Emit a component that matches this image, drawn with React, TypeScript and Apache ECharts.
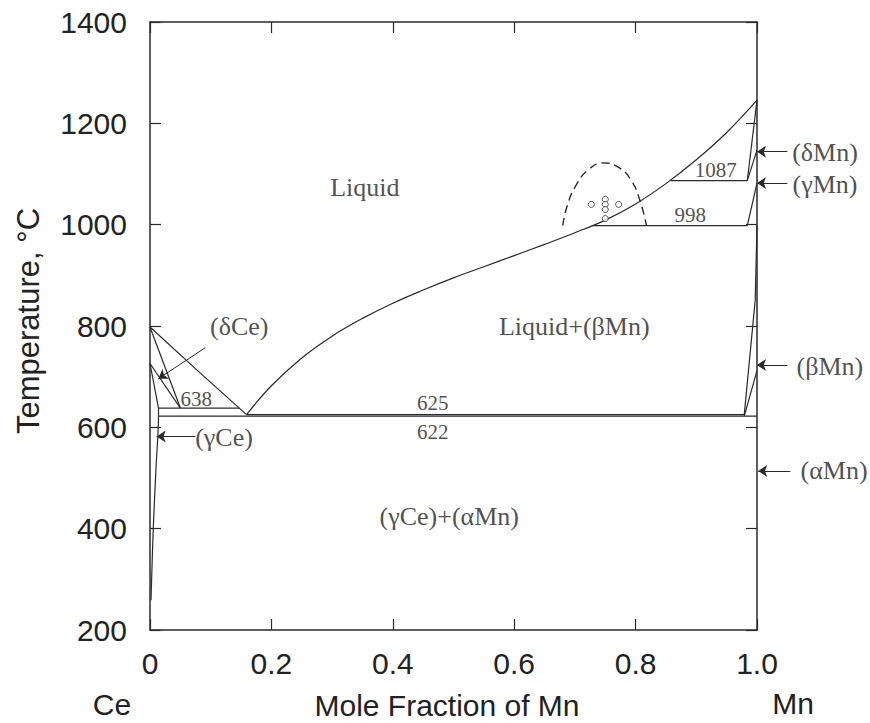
import React, { useEffect, useRef } from "react";
import * as echarts from "echarts";

// Axis ticks
const xTickValues = [0, 0.2, 0.4, 0.6, 0.8, 1.0];
const xTickLabels = ["0", "0.2", "0.4", "0.6", "0.8", "1.0"];
const yTickValues = [200, 400, 600, 800, 1000, 1200, 1400];
const yTickLabels = ["200", "400", "600", "800", "1000", "1200", "1400"];

// Phase boundaries [mole fraction Mn, temperature °C]
const liquidusCe = [[0, 798], [0.082, 708], [0.159, 625]];
const liquidusMn = [
  [0.159, 625], [0.2, 682], [0.25, 737], [0.3, 780], [0.35, 815], [0.4, 845],
  [0.45, 871], [0.5, 895], [0.55, 917], [0.6, 939], [0.65, 961], [0.7, 984],
  [0.75, 1009], [0.8, 1041], [0.85, 1081], [0.9, 1128], [0.95, 1182], [1.0, 1246],
];
const deltaCeSolidus = [[0, 798], [0.05, 638]];
const deltaCeSolvus = [[0, 726], [0.05, 638]];
const gammaCeUpper = [[0, 726], [0.014, 638]];
const gammaCeSolvus = [[0.014, 638], [0.014, 622], [0.01, 522], [0.0055, 404], [0.0016, 259]];
const line638 = [[0.014, 638], [0.147, 638]];
const line625 = [[0.159, 625], [0.979, 625]];
const line622 = [[0.014, 622], [1.0, 622]];
const line998 = [[0.728, 998], [0.984, 998]];
const line1087 = [[0.858, 1087], [0.984, 1087]];
const deltaMnSolidus = [[0.984, 1087], [1.0, 1246]];
const deltaMnSolvus = [[0.984, 1087], [1.0, 1147]];
const gammaMnSolidus = [[0.984, 998], [1.0, 1082]];
const betaMnSolvus = [[0.979, 625], [0.997, 850], [1.0, 998]];
const alphaBetaMn = [[0.979, 622], [1.0, 712]];
const miscibilityGap = [
  [0.68, 998], [0.688, 1040], [0.703, 1080], [0.722, 1108], [0.746, 1122],
  [0.772, 1113], [0.793, 1087], [0.807, 1048], [0.818, 998],
];
const experimentalPoints = [
  [0.727, 1040], [0.75, 1050], [0.75, 1040], [0.75, 1030], [0.772, 1040], [0.75, 1012],
];

// Annotations
const phaseLabelTexts = ["Liquid", "Liquid+(βMn)", "(γCe)+(αMn)", "(δCe)", "(γCe)", "(δMn)", "(γMn)", "(βMn)", "(αMn)"];
const phaseLabelAnchors = [
  [0.354, 1074], [0.699, 800], [0.493, 425], [0.147, 800], [0.122, 579],
  [1.112, 1143], [1.112, 1080], [1.12, 721], [1.127, 514],
];
const tempLabelTexts = ["625", "622", "638", "998", "1087"];
const tempLabelAnchors = [[0.466, 648], [0.466, 591], [0.076, 656], [0.89, 1019], [0.932, 1108]];
const arrowFrom = [[0.091, 757], [0.0745, 582], [1.05, 1144], [1.05, 1082], [1.05, 723], [1.055, 514]];
const arrowTo = [[0.0137, 696], [0.011, 582], [1.0, 1144], [1.0, 1082], [1.0, 723], [1.002, 514]];

const INK = "#2a2a2a";
const SANS = "'Liberation Sans', Arial, Helvetica, sans-serif";
const SERIF = "'Liberation Serif', 'Times New Roman', serif";

function boundary(name: string, data: number[][], extra: any = {}) {
  return {
    name,
    type: "line",
    data,
    showSymbol: false,
    symbol: "none",
    clip: false,
    lineStyle: { color: INK, width: 1.2 },
    z: 3,
    ...extra,
  };
}

export default function App() {
  const ref = useRef<HTMLDivElement>(null);
  useEffect(() => {
    if (!ref.current) return;
    const chart = echarts.init(ref.current, null, { renderer: "svg" });
    const findLabel = (vals: number[], labels: string[], v: number) => {
      const i = vals.findIndex((t) => Math.abs(t - v) < 1e-6);
      return i >= 0 ? labels[i] : "";
    };
    const axisLine = { show: true, onZero: false, lineStyle: { color: INK, width: 1.5 } };
    const tick = { show: true, inside: true, length: 11, lineStyle: { color: INK, width: 1.2 } };
    const option: any = {
      animation: false,
      backgroundColor: "#ffffff",
      grid: { left: 150, right: 113, top: 22, bottom: 93 },
      xAxis: [
        {
          type: "value", min: 0, max: 1, interval: 0.2, position: "bottom",
          axisLine, axisTick: tick, splitLine: { show: false },
          axisLabel: {
            margin: 18, color: "#222", fontSize: 30, fontFamily: SANS,
            formatter: (v: number) => findLabel(xTickValues, xTickLabels, v),
          },
        },
        {
          type: "value", min: 0, max: 1, interval: 0.2, position: "top",
          axisLine, axisTick: tick, splitLine: { show: false }, axisLabel: { show: false },
        },
      ],
      yAxis: [
        {
          type: "value", min: 200, max: 1400, interval: 200, position: "left",
          axisLine, axisTick: tick, splitLine: { show: false },
          axisLabel: {
            margin: 23, color: "#222", fontSize: 30, fontFamily: SANS,
            formatter: (v: number) => findLabel(yTickValues, yTickLabels, v),
          },
        },
        {
          type: "value", min: 200, max: 1400, interval: 200, position: "right",
          axisLine, axisTick: tick, splitLine: { show: false }, axisLabel: { show: false },
        },
      ],
      series: [
        boundary("liquidusCe", liquidusCe),
        boundary("liquidusMn", liquidusMn, { smooth: 0.4 }),
        boundary("deltaCeSolidus", deltaCeSolidus),
        boundary("deltaCeSolvus", deltaCeSolvus),
        boundary("gammaCeUpper", gammaCeUpper),
        boundary("gammaCeSolvus", gammaCeSolvus, { smooth: 0.3 }),
        boundary("638", line638),
        boundary("625", line625),
        boundary("622", line622),
        boundary("998", line998),
        boundary("1087", line1087),
        boundary("deltaMnSolidus", deltaMnSolidus),
        boundary("deltaMnSolvus", deltaMnSolvus),
        boundary("gammaMnSolidus", gammaMnSolidus),
        boundary("betaMnSolvus", betaMnSolvus),
        boundary("alphaBetaMn", alphaBetaMn),
        boundary("miscibilityGap", miscibilityGap, {
          smooth: 0.5,
          lineStyle: { color: INK, width: 1.4, type: [8, 5] },
        }),
        {
          name: "experimental",
          type: "scatter",
          data: experimentalPoints,
          symbol: "circle",
          symbolSize: 6,
          itemStyle: { color: "#ffffff", borderColor: INK, borderWidth: 1 },
          z: 5,
        },
        {
          name: "arrows",
          type: "lines",
          coordinateSystem: "cartesian2d",
          clip: false,
          symbol: ["none", "arrow"],
          symbolSize: [0, 9],
          lineStyle: { color: INK, width: 1, curveness: 0, opacity: 1 },
          data: arrowFrom.map((f, i) => ({ coords: [f, arrowTo[i]] })),
          z: 4,
        },
        {
          name: "phaseLabels",
          type: "scatter",
          clip: false,
          symbolSize: 0,
          data: phaseLabelTexts.map((t, i) => ({ name: t, value: phaseLabelAnchors[i] })),
          label: {
            show: true, position: "inside", formatter: "{b}",
            color: "#222", fontSize: 26, fontFamily: SERIF,
          },
          z: 6,
        },
        {
          name: "tempLabels",
          type: "scatter",
          clip: false,
          symbolSize: 0,
          data: tempLabelTexts.map((t, i) => ({ name: t, value: tempLabelAnchors[i] })),
          label: {
            show: true, position: "inside", formatter: "{b}",
            color: "#222", fontSize: 21, fontFamily: SERIF,
          },
          z: 6,
        },
      ],
      graphic: [
        { type: "text", x: 112, y: 704, style: { text: "Ce", fontSize: 30, fontFamily: SANS, fill: "#222", textAlign: "center", textVerticalAlign: "middle" } },
        { type: "text", x: 793, y: 703, style: { text: "Mn", fontSize: 30, fontFamily: SANS, fill: "#222", textAlign: "center", textVerticalAlign: "middle" } },
        { type: "text", x: 447, y: 705, style: { text: "Mole Fraction of Mn", fontSize: 30, fontFamily: SANS, fill: "#222", textAlign: "center", textVerticalAlign: "middle" } },
        { type: "text", x: 28, y: 321, rotation: Math.PI / 2, style: { text: "Temperature, °C", fontSize: 31, fontFamily: SANS, fill: "#222", textAlign: "center", textVerticalAlign: "middle" } },
      ],
    };
    chart.setOption(option);
    return () => chart.dispose();
  }, []);
  return (
    <div
      ref={ref}
      style={{ position: "absolute", left: 0, top: 0, width: 870, height: 723, background: "#fff" }}
    />
  );
}
